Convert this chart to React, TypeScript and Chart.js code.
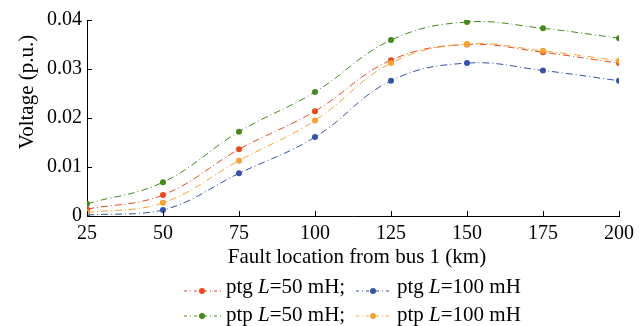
import React, { useEffect, useRef } from "react";
import { Chart, registerables } from "chart.js";

Chart.register(...registerables);

const locations = [25, 50, 75, 100, 125, 150, 175, 200];
const ptg50 = [0.0014, 0.0043, 0.0136, 0.0214, 0.0318, 0.035, 0.0334, 0.0312];
const ptg100 = [0.0002, 0.0012, 0.0087, 0.0161, 0.0276, 0.0312, 0.0297, 0.0276];
const ptp50 = [0.0025, 0.0069, 0.0172, 0.0253, 0.0359, 0.0396, 0.0383, 0.0363];
const ptp100 = [0.0007, 0.0027, 0.0113, 0.0195, 0.0312, 0.0351, 0.0337, 0.0317];
const yTicks = [0, 0.01, 0.02, 0.03, 0.04];
const xTitle = "Fault location from bus 1 (km)";
const yTitle = "Voltage (p.u.)";

const RED = "#e8491d";
const BLUE = "#3553a8";
const GREEN = "#44891a";
const ORANGE = "#f7a234";

const legendItems = [
  { pre: "ptg ", val: "=50 mH;", color: RED, col: 0, row: 0 },
  { pre: "ptg ", val: "=100 mH", color: BLUE, col: 1, row: 0 },
  { pre: "ptp ", val: "=50 mH;", color: GREEN, col: 0, row: 1 },
  { pre: "ptp ", val: "=100 mH", color: ORANGE, col: 1, row: 1 },
];

const FONT = "'Liberation Serif', 'Times New Roman', serif";

const decorPlugin = {
  id: "decor",
  afterDraw(chart: any) {
    const ctx = chart.ctx;
    const area = chart.chartArea;
    const xs = chart.scales.x;
    const ys = chart.scales.y;
    ctx.save();
    // inward ticks
    ctx.strokeStyle = "#000";
    ctx.lineWidth = 1;
    ctx.beginPath();
    xs.ticks.forEach((t: any) => {
      const px = Math.round(xs.getPixelForValue(t.value)) + 0.5;
      ctx.moveTo(px, area.bottom);
      ctx.lineTo(px, area.bottom - 5);
    });
    ys.ticks.forEach((t: any) => {
      const py = Math.round(ys.getPixelForValue(t.value)) + 0.5;
      ctx.moveTo(area.left, py);
      ctx.lineTo(area.left + 5, py);
    });
    ctx.stroke();

    // axis titles
    ctx.fillStyle = "#000";
    ctx.font = `21px ${FONT}`;
    ctx.textAlign = "center";
    ctx.textBaseline = "alphabetic";
    ctx.fillText(xTitle, 357, 263);
    ctx.save();
    ctx.translate(27, 92);
    ctx.rotate(-Math.PI / 2);
    ctx.textBaseline = "middle";
    ctx.fillText(yTitle, 0, 0);
    ctx.restore();

    // legend
    const colX = [[184, 221, 202, 226], [356, 392, 373, 397]];
    const rowY = [[291, 292.5], [316, 321]];
    legendItems.forEach((it) => {
      const [x0, x1, dx, tx] = colX[it.col];
      const [ly, by] = rowY[it.row];
      ctx.strokeStyle = it.color;
      ctx.lineWidth = 1;
      ctx.setLineDash([3, 3, 1, 3]);
      ctx.beginPath();
      ctx.moveTo(x0, ly);
      ctx.lineTo(x1, ly);
      ctx.stroke();
      ctx.setLineDash([]);
      ctx.fillStyle = it.color;
      ctx.beginPath();
      ctx.arc(dx, ly, 3, 0, Math.PI * 2);
      ctx.fill();
      ctx.fillStyle = "#000";
      ctx.textAlign = "left";
      ctx.textBaseline = "alphabetic";
      ctx.font = `21px ${FONT}`;
      let x = tx;
      ctx.fillText(it.pre, x, by);
      x += ctx.measureText(it.pre).width;
      ctx.font = `italic 21px ${FONT}`;
      ctx.fillText("L", x, by);
      x += ctx.measureText("L").width;
      ctx.font = `21px ${FONT}`;
      ctx.fillText(it.val, x, by);
    });
    ctx.restore();
  },
};

function mk(label: string, vals: number[], color: string, order: number) {
  return {
    label,
    data: locations.map((x, i) => ({ x, y: vals[i] })),
    borderColor: color,
    backgroundColor: color,
    borderWidth: 1,
    borderDash: [7, 3, 1, 3],
    pointRadius: 3,
    pointHoverRadius: 3,
    pointBorderWidth: 0,
    tension: 0.4,
    order,
  };
}

export default function App() {
  const ref = useRef<HTMLCanvasElement | null>(null);
  useEffect(() => {
    document.body.style.margin = "0";
    const chart = new Chart(ref.current as HTMLCanvasElement, {
      type: "line",
      data: {
        datasets: [
          mk("ptg L=50 mH", ptg50, RED, 3),
          mk("ptg L=100 mH", ptg100, BLUE, 2),
          mk("ptp L=50 mH", ptp50, GREEN, 1),
          mk("ptp L=100 mH", ptp100, ORANGE, 0),
        ],
      },
      options: {
        animation: false,
        responsive: false,
        layout: { padding: { left: 0, right: 25, top: 20, bottom: 50 } },
        plugins: { legend: { display: false }, tooltip: { enabled: false } },
        scales: {
          x: {
            type: "linear",
            min: 25,
            max: 200,
            grid: { display: true, drawOnChartArea: false, drawTicks: false },
            border: { display: true, color: "#000", width: 1 },
            ticks: {
              stepSize: 25,
              padding: 6,
              color: "#000",
              font: { family: FONT, size: 20 },
              maxRotation: 0,
            },
            afterFit: (s: any) => {
              s.height = 60;
            },
          },
          y: {
            min: 0,
            max: 0.04,
            grid: { display: true, drawOnChartArea: false, drawTicks: false },
            border: { display: true, color: "#000", width: 1 },
            afterBuildTicks: (s: any) => {
              s.ticks = yTicks.map((v) => ({ value: v }));
            },
            ticks: {
              padding: 5,
              color: "#000",
              font: { family: FONT, size: 20 },
              callback: (v: any) => (v === 0 ? "0" : Number(v).toFixed(2)),
            },
            afterFit: (s: any) => {
              s.width = 87;
            },
          },
        },
      },
      plugins: [decorPlugin],
    });
    return () => chart.destroy();
  }, []);
  return <canvas ref={ref} width={644} height={326} style={{ display: "block" }} />;
}
